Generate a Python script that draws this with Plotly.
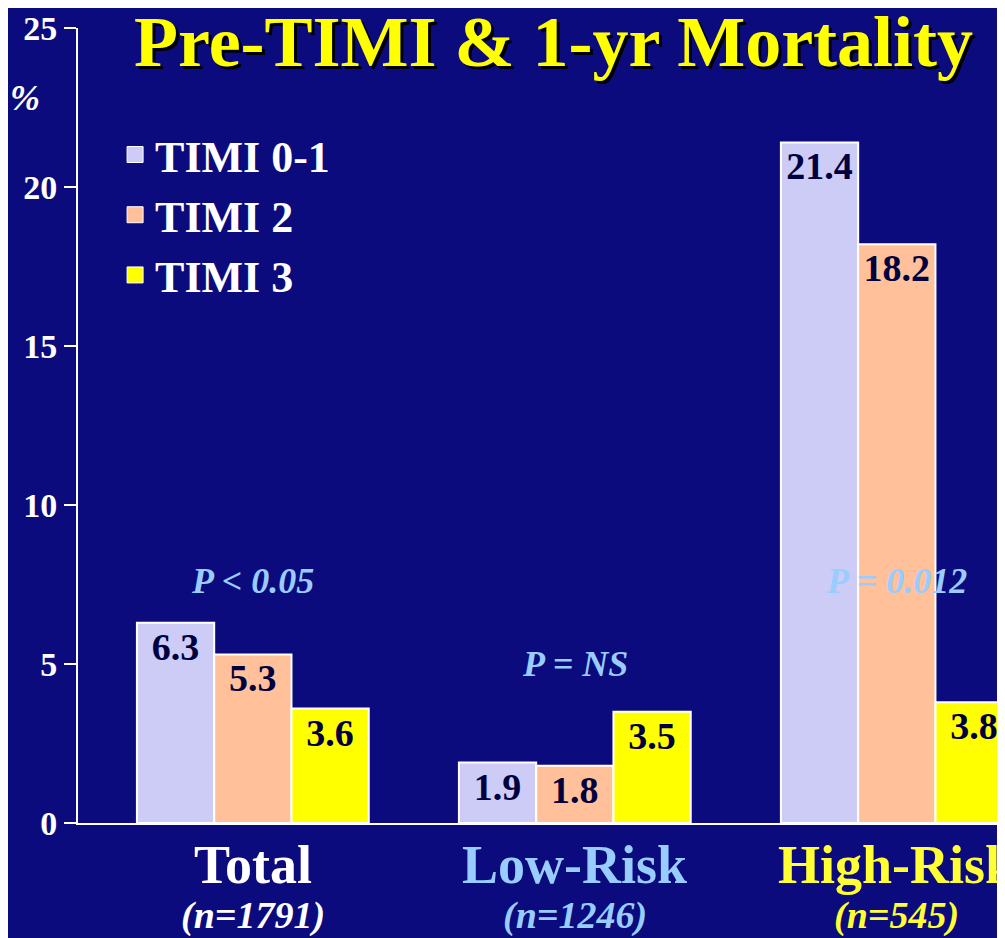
import plotly.graph_objects as go

groups = ["Total", "Low-Risk", "High-Risk"]
subs = ["(n=1791)", "(n=1246)", "(n=545)"]
group_colors = ["white", "#99ccff", "#ffff33"]
series = ["TIMI 0-1", "TIMI 2", "TIMI 3"]
vals = {
    "TIMI 0-1": [6.3, 1.9, 21.4],
    "TIMI 2": [5.3, 1.8, 18.2],
    "TIMI 3": [3.6, 3.5, 3.8],
}
colors = {"TIMI 0-1": "#ccccf7", "TIMI 2": "#ffc09a", "TIMI 3": "#ffff00"}
pvals = ["P < 0.05", "P = NS", "P = 0.012"]
pval_y = [7.6, 5.0, 7.6]
yticks = [0, 5, 10, 15, 20, 25]

F = "Liberation Serif"
xs = [0, 1, 2]
fig = go.Figure()
for s in series:
    fig.add_trace(go.Bar(
        x=xs, y=vals[s], name=s, showlegend=False,
        marker=dict(color=colors[s], line=dict(color="white", width=2)),
        text=[f"{v:.1f}" for v in vals[s]], textposition="inside",
        insidetextanchor="end", textangle=0,
        textfont=dict(family=F, size=38, color="#000040", weight="bold"),
        cliponaxis=False,
    ))
    fig.add_trace(go.Scatter(
        x=[None], y=[None], mode="markers", name=s,
        marker=dict(symbol="square", size=44, color=colors[s], line=dict(color="white", width=1)),
    ))

anns = []
for i, g in enumerate(groups):
    anns.append(dict(x=xs[i], y=0, yshift=-42, text=f"<b>{g}</b>", showarrow=False,
                     font=dict(family=F, size=54, color=group_colors[i]), xref="x", yref="y"))
    anns.append(dict(x=xs[i], y=0, yshift=-92, text=f"<b><i>{subs[i]}</i></b>", showarrow=False,
                     font=dict(family=F, size=38, color=group_colors[i]), xref="x", yref="y"))
    anns.append(dict(x=xs[i], y=pval_y[i], text=f"<b><i>{pvals[i]}</i></b>", showarrow=False,
                     font=dict(family=F, size=36, color="#99ccff"), xref="x", yref="y"))
for dx, col in [(3, "#000000"), (0, "#ffff00")]:
    anns.append(dict(x=0.058, y=1.035, xref="paper", yref="paper", xshift=dx, yshift=-dx,
                     text="<b>Pre-TIMI &amp; 1-yr Mortality</b>", showarrow=False,
                     xanchor="left", yanchor="top",
                     font=dict(family=F, size=72, color=col)))
anns.append(dict(x=-0.075, y=0.94, xref="paper", yref="paper", text="<b><i>%</i></b>",
                 showarrow=False, font=dict(family=F, size=36, color="white")))

fig.update_layout(
    width=997, height=930,
    margin=dict(l=70, r=0, t=20, b=115),
    paper_bgcolor="#0b0b7e", plot_bgcolor="rgba(0,0,0,0)",
    barmode="group", bargap=0.28, bargroupgap=0,
    annotations=anns,
    showlegend=True,
    legend=dict(x=0.04, y=0.885, xanchor="left", yanchor="top", bgcolor="rgba(0,0,0,0)",
                font=dict(family=F, size=44, color="white", weight="bold"),
                itemsizing="trace", tracegroupgap=0),
    xaxis=dict(range=[-0.543, 2.336], showticklabels=False, showgrid=False, zeroline=False,
               showline=True, linecolor="white", linewidth=2),
    yaxis=dict(range=[0, 25], tickvals=yticks, showgrid=False, zeroline=False,
               showline=True, linecolor="white", linewidth=2, ticks="outside",
               ticklen=12, tickcolor="white", tickwidth=2,
               tickfont=dict(family=F, size=34, color="white", weight="bold")),
)
fig.write_html("out.html")
